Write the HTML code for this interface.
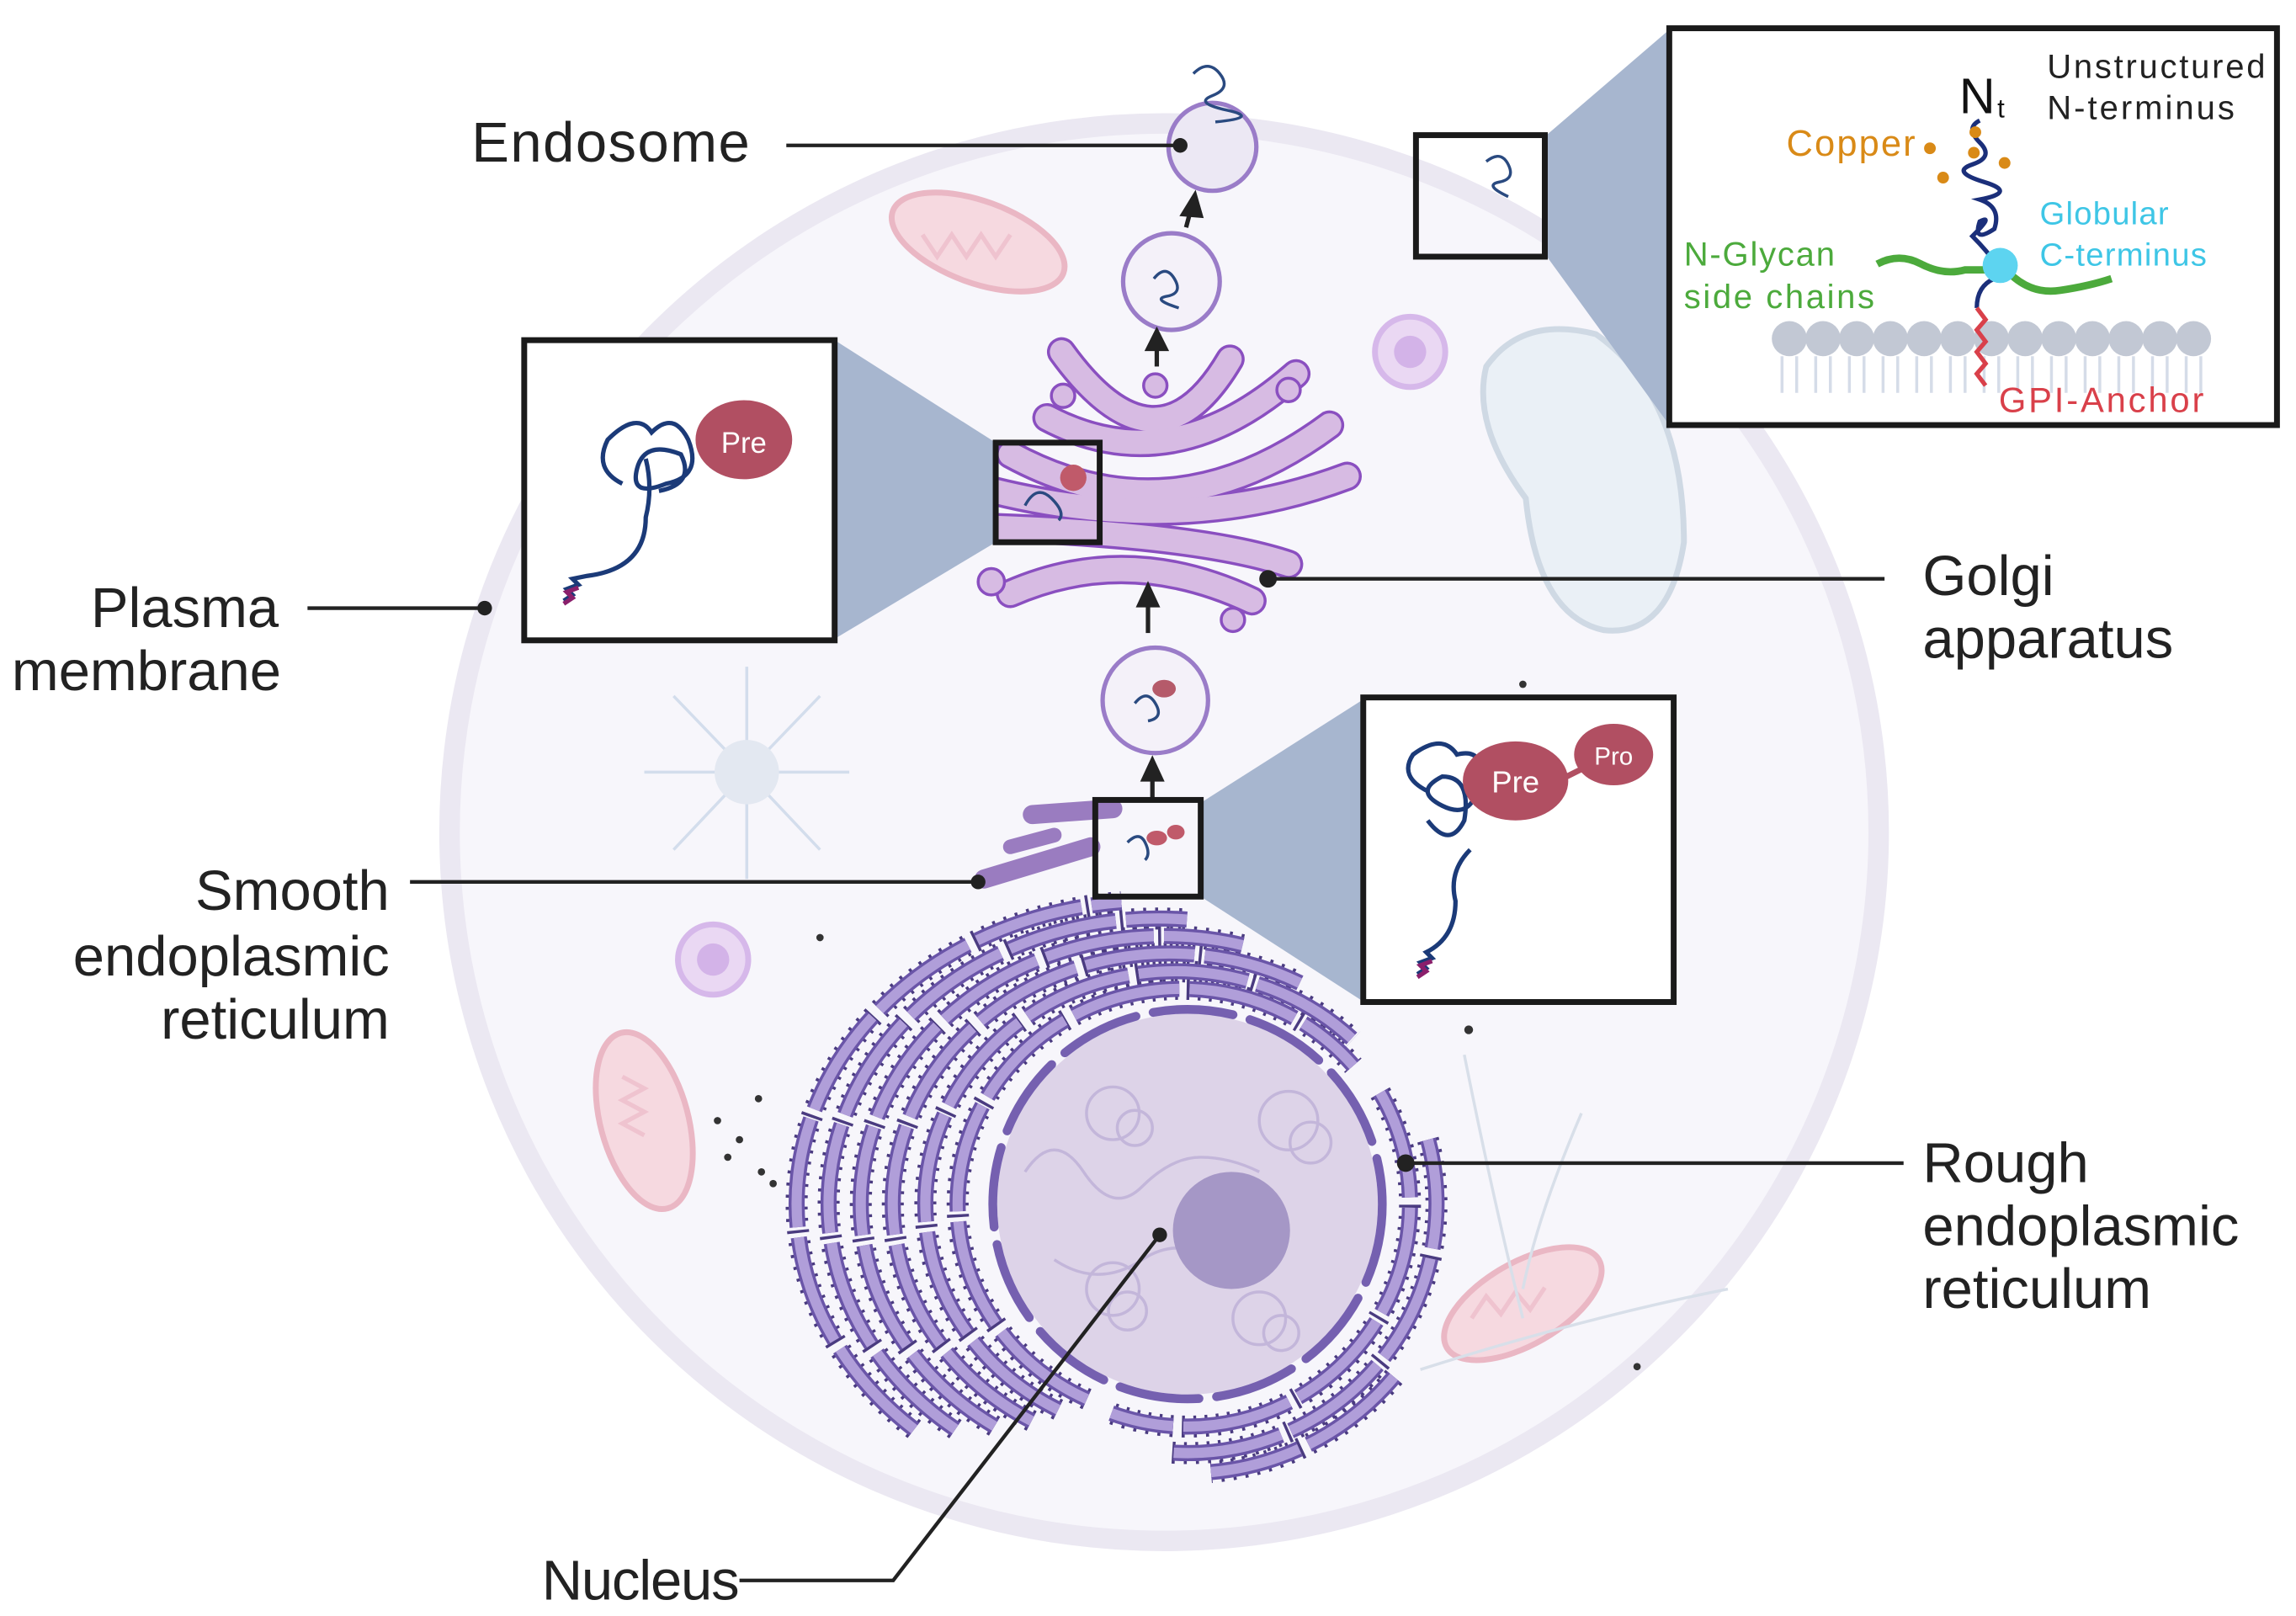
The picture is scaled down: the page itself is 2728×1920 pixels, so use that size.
<!DOCTYPE html>
<html><head><meta charset="utf-8"><style>
html,body{margin:0;padding:0;background:#fff;}
svg{display:block}
text{font-family:"Liberation Sans",sans-serif;}
</style></head><body>
<svg width="2728" height="1920" viewBox="0 0 1568 1103" xmlns="http://www.w3.org/2000/svg">
<rect width="1568" height="1103" fill="#fff"/>
<ellipse cx="795" cy="568" rx="488" ry="484" fill="#f7f6fb" stroke="#ebe8f2" stroke-width="14"/>
<path d="M1015 250 Q1040 215 1090 228 Q1150 270 1150 370 Q1140 435 1095 430 Q1050 420 1042 340 Q1005 290 1015 250Z" fill="#eaf0f6" stroke="#cfd9e4" stroke-width="4"/>
<ellipse cx="668" cy="165" rx="62" ry="28" transform="rotate(20 668 165)" fill="#f6d9e0" stroke="#eab7c4" stroke-width="4"/>
<ellipse cx="440" cy="765" rx="30" ry="62" transform="rotate(-15 440 765)" fill="#f6d9e0" stroke="#eab7c4" stroke-width="4"/>
<ellipse cx="1040" cy="890" rx="60" ry="28" transform="rotate(-30 1040 890)" fill="#f6d9e0" stroke="#eab7c4" stroke-width="4"/>
<g stroke="#efc3cf" stroke-width="3" fill="none">
<path d="M630 160 l10 15 l10-15 l10 15 l10-15 l10 15 l10-15"/>
<path d="M425 735 l15 8 l-15 8 l15 8 l-15 8 l15 8"/>
<path d="M1005 900 l10-15 l10 12 l10-15 l10 12 l10-15"/>
</g>
<circle cx="963" cy="240" r="24" fill="#ead8f3" stroke="#d6b8ea" stroke-width="4"/><circle cx="963" cy="240" r="11" fill="#d3b3e8"/>
<circle cx="487" cy="655" r="24" fill="#ead8f3" stroke="#d6b8ea" stroke-width="4"/><circle cx="487" cy="655" r="11" fill="#d3b3e8"/>
<g stroke="#d3ddec" stroke-width="2">
<line x1="510" y1="527" x2="510" y2="455"/><line x1="510" y1="527" x2="510" y2="600"/><line x1="510" y1="527" x2="440" y2="527"/><line x1="510" y1="527" x2="580" y2="527"/>
<line x1="510" y1="527" x2="460" y2="475"/><line x1="510" y1="527" x2="560" y2="475"/><line x1="510" y1="527" x2="460" y2="580"/><line x1="510" y1="527" x2="560" y2="580"/>
</g>
<circle cx="510" cy="527" r="22" fill="#e3e8f1"/>
<g stroke="#d8dfe9" stroke-width="2" fill="none">
<path d="M1000 720 Q1020 820 1040 900"/><path d="M1080 760 Q1050 830 1040 880"/><path d="M970 935 Q1080 900 1180 880"/>
</g>
<g stroke-linecap="round" fill="none">
<path d="M705 556 L760 552" stroke="#9a7cc0" stroke-width="13"/>
<path d="M672 600 L745 578" stroke="#9a7cc0" stroke-width="13"/>
<path d="M690 578 L720 570" stroke="#9a7cc0" stroke-width="10"/>
<path d="M830 568 L880 572" stroke="#a79cc8" stroke-width="12"/>
<path d="M835 595 L890 610" stroke="#a79cc8" stroke-width="12"/>
<path d="M880 627 L922 636" stroke="#a79cc8" stroke-width="12"/>
</g>
<circle cx="811" cy="822" r="130" fill="#ddd3e8"/>
<g stroke="#c3b6da" stroke-width="2" fill="none">
<circle cx="760" cy="760" r="18"/><circle cx="775" cy="770" r="12"/><circle cx="880" cy="765" r="20"/><circle cx="895" cy="780" r="14"/>
<circle cx="760" cy="880" r="18"/><circle cx="770" cy="895" r="13"/><circle cx="860" cy="900" r="18"/><circle cx="875" cy="910" r="12"/>
<path d="M700 800 q20 -30 40 0 t40 10 t40 -20 t40 10"/><path d="M720 860 q30 20 60 0 t60 10"/>
</g>
<circle cx="841" cy="840" r="40" fill="#a597c6"/>
<circle cx="811" cy="822" r="133" fill="none" stroke="#7560b0" stroke-width="6" stroke-dasharray="55 12" stroke-linecap="round"/>
<g fill="none">
<g stroke="#4a3b80" stroke-width="15" stroke-dasharray="2 6">
<path d="M742.3 955.2 A153 147 0 1 1 924.2 727.5"/>
<path d="M722.7 962.4 A171 159 0 1 1 923.9 709.6"/>
<path d="M704.5 970.1 A189 171 0 0 1 887.7 671.0"/>
<path d="M679.2 973.7 A207 183 0 0 1 848.6 645.2"/>
<path d="M652.5 975.7 A225 195 0 0 1 810.6 627.7"/>
<path d="M624.4 975.8 A243 207 0 0 1 765.8 615.8"/>
<path d="M942.6 746 A152 152 0 0 1 759 964.8"/>
<path d="M975.2 778 A170 170 0 0 1 796.2 991.4"/>
<path d="M952 940 A184 184 0 0 1 827 1005"/>
</g>
<g stroke="#6a55a8" stroke-width="11" stroke-dasharray="75 7">
<path d="M742.3 955.2 A153 147 0 1 1 924.2 727.5"/>
<path d="M722.7 962.4 A171 159 0 1 1 923.9 709.6"/>
<path d="M704.5 970.1 A189 171 0 0 1 887.7 671.0"/>
<path d="M679.2 973.7 A207 183 0 0 1 848.6 645.2"/>
<path d="M652.5 975.7 A225 195 0 0 1 810.6 627.7"/>
<path d="M624.4 975.8 A243 207 0 0 1 765.8 615.8"/>
<path d="M942.6 746 A152 152 0 0 1 759 964.8"/>
<path d="M975.2 778 A170 170 0 0 1 796.2 991.4"/>
<path d="M952 940 A184 184 0 0 1 827 1005"/>
</g>
<g stroke="#b09ed9" stroke-width="7" stroke-dasharray="75 7">
<path d="M742.3 955.2 A153 147 0 1 1 924.2 727.5"/>
<path d="M722.7 962.4 A171 159 0 1 1 923.9 709.6"/>
<path d="M704.5 970.1 A189 171 0 0 1 887.7 671.0"/>
<path d="M679.2 973.7 A207 183 0 0 1 848.6 645.2"/>
<path d="M652.5 975.7 A225 195 0 0 1 810.6 627.7"/>
<path d="M624.4 975.8 A243 207 0 0 1 765.8 615.8"/>
<path d="M942.6 746 A152 152 0 0 1 759 964.8"/>
<path d="M975.2 778 A170 170 0 0 1 796.2 991.4"/>
<path d="M952 940 A184 184 0 0 1 827 1005"/>
</g>
</g>
<g fill="none" stroke-linecap="round">
<g stroke="#8a4fc0" stroke-width="20">
<path d="M725 240 Q790 330 840 245"/>
<path d="M715 285 Q800 330 885 255"/>
<path d="M690 310 Q800 370 908 290"/>
<path d="M660 330 Q800 370 920 325"/>
<path d="M680 360 Q820 365 880 385"/>
<path d="M690 405 Q770 370 855 410"/>
</g>
<g stroke="#d7bbe3" stroke-width="16">
<path d="M725 240 Q790 330 840 245"/>
<path d="M715 285 Q800 330 885 255"/>
<path d="M690 310 Q800 370 908 290"/>
<path d="M660 330 Q800 370 920 325"/>
<path d="M680 360 Q820 365 880 385"/>
<path d="M690 405 Q770 370 855 410"/>
</g>
</g>
<g fill="#d7bbe3" stroke="#8a4fc0" stroke-width="2">
<circle cx="726" cy="270" r="8"/><circle cx="789" cy="263" r="8"/><circle cx="880" cy="266" r="8"/>
<circle cx="677" cy="397" r="9"/><circle cx="842" cy="423" r="8"/>
</g>
<circle cx="828" cy="100" r="30" fill="#ece8f4" stroke="#9a7cc8" stroke-width="3"/>
<circle cx="800" cy="192" r="33" fill="#f4f1f9" stroke="#9a7cc8" stroke-width="3"/>
<circle cx="789" cy="478" r="36" fill="#f4f1f9" stroke="#9a7cc8" stroke-width="3"/>
<g stroke="#2a4a80" stroke-width="2" fill="none">
<path d="M815 50 q10 -10 18 0 t-5 15 t10 10 t-8 8"/><path d="M788 190 q8 -10 14 0 t-5 12 t8 8"/><path d="M775 480 q8 -10 14 0 t-5 12"/>
</g>
<ellipse cx="795" cy="470" rx="8" ry="6" fill="#b55a6a"/>
<g stroke="#222" stroke-width="3" fill="#222">
<line x1="810" y1="155" x2="814" y2="140"/><polygon points="816,133 808,146 820,147"/>
<line x1="790" y1="250" x2="790" y2="235"/><polygon points="790,226 784,238 796,238"/>
<line x1="784" y1="432" x2="784" y2="410"/><polygon points="784,400 778,413 790,413"/>
<line x1="787" y1="545" x2="787" y2="530"/><polygon points="787,519 781,532 793,532"/>
</g>
<polygon points="570,232 680,302 680,370 570,436" fill="#a7b6cf"/>
<polygon points="820,548 930,478 930,683 820,612" fill="#a7b6cf"/>
<polygon points="1055,93 1140,20 1140,290 1055,173" fill="#a7b6cf"/>
<g fill="none" stroke="#1a1a1a" stroke-width="4">
<rect x="680" y="302" width="71" height="68"/>
<rect x="748" y="546" width="72" height="66"/>
<rect x="967" y="92" width="88" height="83"/>
</g>
<path d="M700 345 q8-15 18-5 t5 15" stroke="#2a4a80" stroke-width="2" fill="none"/><circle cx="733" cy="326" r="9" fill="#c05a6a"/>
<path d="M770 575 q8-8 12 0 t0 12" stroke="#2a4a80" stroke-width="2" fill="none"/><ellipse cx="790" cy="572" rx="7" ry="5" fill="#c05a6a"/><ellipse cx="803" cy="568" rx="6" ry="5" fill="#c05a6a"/>
<path d="M1015 110 q10 -8 15 2 t-6 12 t6 10" stroke="#2a4a80" stroke-width="2" fill="none"/>
<rect x="358" y="232" width="212" height="205" fill="#fff" stroke="#1a1a1a" stroke-width="4"/>
<path d="M385 410 l6-4 l-4-4 l8-3 l-4-4 l10-2 q40 -5 40-40 q5-20 0-40 M425 330 q-20-10 -10-30 q20-20 30 -5 q15-15 25 5 q10 25 -15 30 q-25 10 -20 -10 q5 -20 30 -10 q10 20 -15 25" stroke="#1b3a78" stroke-width="3" fill="none"/>
<path d="M385 412 l6-4 l-4-4 l8-3" stroke="#8a1f6b" stroke-width="3" fill="none"/>
<ellipse cx="508" cy="300" rx="33" ry="27" fill="#b14f62"/>
<text x="508" y="309" font-size="20" fill="#fff" text-anchor="middle">Pre</text>
<rect x="931" y="476" width="212" height="208" fill="#fff" stroke="#1a1a1a" stroke-width="4"/>
<path d="M968 665 l6-4 l-4-4 l8-3 l-4-4 q20-10 20-35 q-5-20 10-35 M975 540 q-20 -10 -10 -25 q20 -15 30 0 q20 -5 15 20 q-5 25 -25 15 q-20 -10 0 -20 q20 0 15 30 q-10 20 -25 0" stroke="#1b3a78" stroke-width="3" fill="none"/>
<path d="M968 667 l6-4 l-4-4 l8-3" stroke="#8a1f6b" stroke-width="3" fill="none"/>
<line x1="1060" y1="535" x2="1090" y2="520" stroke="#b14f62" stroke-width="4"/>
<ellipse cx="1035" cy="533" rx="36" ry="27" fill="#b14f62"/>
<text x="1035" y="541" font-size="21" fill="#fff" text-anchor="middle">Pre</text>
<ellipse cx="1102" cy="515" rx="27" ry="21" fill="#b14f62"/>
<text x="1102" y="522" font-size="17" fill="#fff" text-anchor="middle">Pro</text>
<rect x="1140" y="19" width="415" height="271" fill="#fff" stroke="#1a1a1a" stroke-width="4"/>
<g fill="#c2c8d4">
<circle cx="1222" cy="231" r="12"/><circle cx="1245" cy="231" r="12"/><circle cx="1268" cy="231" r="12"/><circle cx="1291" cy="231" r="12"/><circle cx="1314" cy="231" r="12"/><circle cx="1337" cy="231" r="12"/><circle cx="1360" cy="231" r="12"/><circle cx="1383" cy="231" r="12"/><circle cx="1406" cy="231" r="12"/><circle cx="1429" cy="231" r="12"/><circle cx="1452" cy="231" r="12"/><circle cx="1475" cy="231" r="12"/><circle cx="1498" cy="231" r="12"/>
</g>
<g stroke="#d5dce8" stroke-width="2">
<path d="M1217 243v25M1227 243v25M1240 243v25M1250 243v25M1263 243v25M1273 243v25M1286 243v25M1296 243v25M1309 243v25M1319 243v25M1332 243v25M1342 243v25M1355 243v25M1365 243v25M1378 243v25M1388 243v25M1401 243v25M1411 243v25M1424 243v25M1434 243v25M1447 243v25M1457 243v25M1470 243v25M1480 243v25M1493 243v25M1503 243v25"/>
</g>
<path d="M1282 180 q15-8 30 0 t30 4 q10 0 20 0" stroke="#4caa3c" stroke-width="5" fill="none"/>
<path d="M1372 186 q15 15 35 12 t35 -8" stroke="#4caa3c" stroke-width="5" fill="none"/>
<path d="M1352 82 q-10 5 0 15 t-5 15 t8 12 t-3 12 q15 5 10 20 q-15 10 -10 -5 q10 -5 -5 10 q10 10 17 20 M1362 190 q-12 5 -12 20" stroke="#1b2f7a" stroke-width="3" fill="none"/>
<path d="M1350 210 l6 8 l-6 7 l6 8 l-6 7 l6 8 l-6 7 l6 8" stroke="#d9404a" stroke-width="3" fill="none"/>
<circle cx="1366" cy="181" r="12" fill="#5dd4f0"/>
<g fill="#d98a17"><circle cx="1318" cy="101" r="4"/><circle cx="1349" cy="90" r="4"/><circle cx="1348" cy="104" r="4"/><circle cx="1369" cy="111" r="4"/><circle cx="1327" cy="121" r="4"/></g>
<text x="1338" y="77" font-size="34" fill="#111">N</text><text x="1364" y="80" font-size="18" fill="#111">t</text>
<text x="1398" y="53" font-size="23" fill="#222" textLength="149">Unstructured</text>
<text x="1398" y="81" font-size="23" fill="#222" textLength="128">N-terminus</text>
<text x="1220" y="106" font-size="25" fill="#d98a17" textLength="88">Copper</text>
<text x="1393" y="153" font-size="22" fill="#3ec6e6" textLength="88">Globular</text>
<text x="1393" y="181" font-size="22" fill="#3ec6e6" textLength="114">C-terminus</text>
<text x="1150" y="181" font-size="23" fill="#4caa3c" textLength="103">N-Glycan</text>
<text x="1150" y="210" font-size="23" fill="#4caa3c" textLength="130">side chains</text>
<text x="1365" y="281" font-size="24" fill="#d9404a" textLength="140">GPI-Anchor</text>
<g stroke="#222" stroke-width="2.5" fill="none">
<line x1="537" y1="99" x2="806" y2="99"/>
<line x1="210" y1="415" x2="331" y2="415"/>
<line x1="866" y1="395" x2="1287" y2="395"/>
<line x1="280" y1="602" x2="668" y2="602"/>
<line x1="960" y1="794" x2="1300" y2="794"/>
<polyline points="505,1079 610,1079 792,843"/>
</g>
<g fill="#222">
<circle cx="806" cy="99" r="5"/><circle cx="331" cy="415" r="5"/><circle cx="866" cy="395" r="6"/><circle cx="668" cy="602" r="5"/><circle cx="960" cy="794" r="6"/><circle cx="792" cy="843" r="5"/>
</g>
<g font-size="38.5" fill="#222">
<text x="322" y="110" textLength="190">Endosome</text>
<text x="62" y="428">Plasma</text>
<text x="8" y="471">membrane</text>
<text x="1313" y="406">Golgi</text>
<text x="1313" y="449">apparatus</text>
<text x="266" y="621" text-anchor="end">Smooth</text>
<text x="266" y="666" text-anchor="end">endoplasmic</text>
<text x="266" y="709" text-anchor="end">reticulum</text>
<text x="1313" y="807">Rough</text>
<text x="1313" y="850">endoplasmic</text>
<text x="1313" y="893">reticulum</text>
<text x="370" y="1092" textLength="135">Nucleus</text>
</g>
<g fill="#333"><circle cx="560" cy="640" r="2.5"/><circle cx="490" cy="765" r="2.5"/><circle cx="505" cy="778" r="2.5"/><circle cx="518" cy="750" r="2.5"/><circle cx="497" cy="790" r="2.5"/><circle cx="520" cy="800" r="2.5"/><circle cx="528" cy="808" r="2.5"/><circle cx="1003" cy="703" r="3"/><circle cx="1040" cy="467" r="2.5"/><circle cx="1118" cy="933" r="2.5"/></g>
</svg>
</body></html>
